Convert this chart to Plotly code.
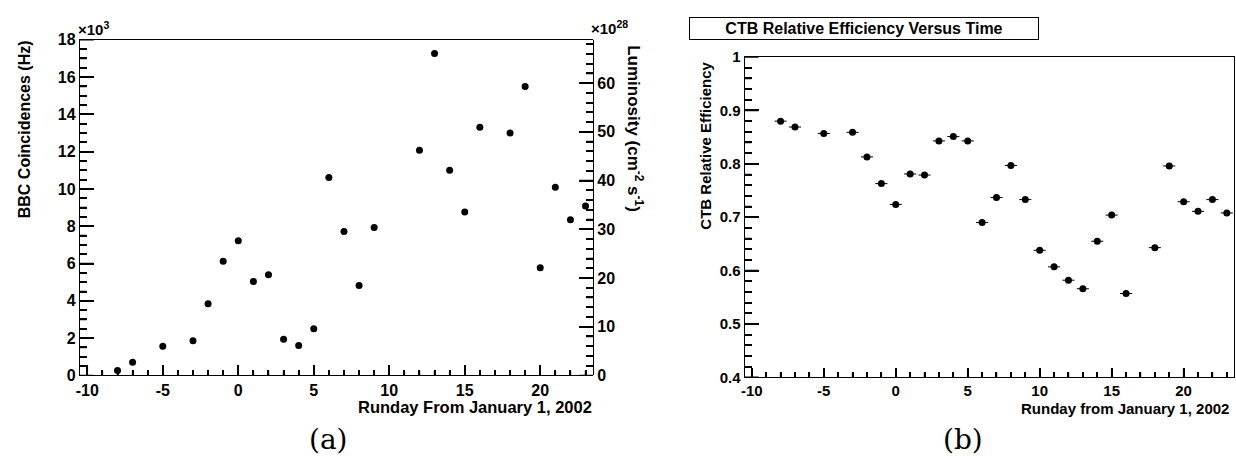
import plotly.graph_objects as go

# ---------------- data ----------------
bbc_days = [-8, -7, -5, -3, -2, -1, 0, 1, 2, 3, 4, 5, 6, 7, 8, 9, 12, 13, 14, 15, 16, 18, 19, 20, 21, 22, 23]
bbc_rate_hz = [260, 710, 1570, 1860, 3850, 6120, 7220, 5040, 5400, 1940, 1600, 2500, 10610, 7720, 4820,
               7940, 12070, 17260, 11000, 8770, 13310, 13000, 15490, 5780, 10090, 8350, 9080]

eff_days = [-8, -7, -5, -3, -2, -1, 0, 1, 2, 3, 4, 5, 6, 7, 8, 9, 10, 11, 12, 13, 14, 15, 16, 18, 19, 20, 21, 22, 23]
ctb_eff = [0.880, 0.869, 0.857, 0.859, 0.813, 0.763, 0.724, 0.781, 0.779, 0.843, 0.851, 0.843, 0.690, 0.737,
           0.797, 0.733, 0.638, 0.607, 0.582, 0.566, 0.655, 0.704, 0.557, 0.643, 0.796, 0.729, 0.711, 0.733, 0.708]
ctb_xerr = [0.42] * len(eff_days)

x_tickvals = [-10, -5, 0, 5, 10, 15, 20]
x_ticktext = ["-10", "-5", "0", "5", "10", "15", "20"]
x_minor = list(range(-10, 24))
bbc_tickvals = [0, 2000, 4000, 6000, 8000, 10000, 12000, 14000, 16000, 18000]
bbc_ticktext = ["0", "2", "4", "6", "8", "10", "12", "14", "16", "18"]
bbc_minor = list(range(0, 18001, 500))
lumi_tickvals = [0, 10, 20, 30, 40, 50, 60]
lumi_ticktext = ["0", "10", "20", "30", "40", "50", "60"]
lumi_minor = list(range(0, 69, 2))
eff_tickvals = [0.4, 0.5, 0.6, 0.7, 0.8, 0.9, 1.0]
eff_ticktext = ["0.4", "0.5", "0.6", "0.7", "0.8", "0.9", "1"]
eff_minor = [i / 100 for i in range(40, 101, 2)]

X_RANGE = [-10.5, 23.5]
BBC_RANGE = [0, 18000]
LUMI_RANGE = [0, 68.9]
EFF_RANGE = [0.4, 1.0]


def bold(lst):
    return ["<b>%s</b>" % t for t in lst]

# ---------------- layout helpers ----------------
W, H = 1236, 471
def px(p):
    return p / W
def py(p):
    return 1 - p / H

FONT = "Liberation Sans, Arial, Helvetica, sans-serif"

# panel geometry (pixels)
A_L, A_R, A_T, A_B = 76, 591, 32, 381
B_L, B_R, B_T, B_B = 743, 1234, 50, 383
A_W, A_H = A_R - A_L, A_B - A_T
B_W, B_H = B_R - B_L, B_B - B_T

fig = go.Figure()


# ---------------- inside tick marks from the tick value lists, in data units ----------------
def is_major(v, majors):
    return any(abs(v - m) < 1e-9 for m in majors)

def x_tick_trace(xa, ya, vals, majors, yrange, plot_h, major_len, minor_len):
    xs, ys = [], []
    per_px = (yrange[1] - yrange[0]) / plot_h
    for v in vals:
        ln = major_len if is_major(v, majors) else minor_len
        xs += [v, v, None]
        ys += [yrange[0], yrange[0] + ln * per_px, None]
    return go.Scatter(x=xs, y=ys, mode="lines", line=dict(color="black", width=1.5),
                      xaxis=xa, yaxis=ya, showlegend=False)

def y_tick_trace(xa, ya, vals, majors, xrange_, plot_w, major_len, minor_len, right=False):
    xs, ys = [], []
    per_px = (xrange_[1] - xrange_[0]) / plot_w
    for v in vals:
        ln = major_len if is_major(v, majors) else minor_len
        if right:
            xs += [xrange_[1] - ln * per_px, xrange_[1], None]
        else:
            xs += [xrange_[0], xrange_[0] + ln * per_px, None]
        ys += [v, v, None]
    return go.Scatter(x=xs, y=ys, mode="lines", line=dict(color="black", width=1.5),
                      xaxis=xa, yaxis=ya, showlegend=False)

# ---------------- data traces ----------------
fig.add_trace(go.Scatter(
    x=bbc_days, y=bbc_rate_hz, mode="markers",
    marker=dict(color="black", size=7),
    xaxis="x", yaxis="y", showlegend=False))
fig.add_trace(go.Scatter(
    x=eff_days, y=ctb_eff, mode="markers",
    marker=dict(color="black", size=7),
    error_x=dict(type="data", array=ctb_xerr, symmetric=True, color="black", thickness=1, width=0),
    xaxis="x2", yaxis="y3", showlegend=False))

fig.add_trace(x_tick_trace("x", "y", x_minor, x_tickvals, BBC_RANGE, A_H, 10, 5))
fig.add_trace(y_tick_trace("x", "y", bbc_minor, bbc_tickvals, X_RANGE, A_W, 14, 7))
fig.add_trace(y_tick_trace("x3", "y2", lumi_minor, lumi_tickvals, X_RANGE, A_W, 14, 7, right=True))
fig.add_trace(x_tick_trace("x2", "y3", x_minor, x_tickvals, EFF_RANGE, B_H, 9, 5))
fig.add_trace(y_tick_trace("x2", "y3", eff_minor, eff_tickvals, X_RANGE, B_W, 14, 7))


def axis(**kw):
    d = dict(showgrid=False, zeroline=False, showline=True, linecolor="black", linewidth=1,
             ticks="inside", tickcolor="black", tickwidth=1.5)
    d.update(kw)
    return d

fig.update_layout(
    width=W, height=H,
    margin=dict(l=0, r=0, t=0, b=0),
    plot_bgcolor="rgba(0,0,0,0)",
    xaxis=axis(domain=[px(A_L), px(A_R)], range=X_RANGE, anchor="y", mirror=True,
               tickmode="array", tickvals=x_tickvals, ticktext=bold(x_ticktext), ticklen=10,
               tickfont=dict(family=FONT, size=16, color="black"),
               minor=dict(dtick=1, tick0=0, ticks="inside", ticklen=5, tickcolor="black", tickwidth=1.5)),
    yaxis=axis(domain=[py(A_B), py(A_T)], range=BBC_RANGE, anchor="x",
               tickmode="array", tickvals=bbc_tickvals, ticktext=bold(bbc_ticktext), ticklen=14,
               tickfont=dict(family=FONT, size=16, color="black"),
               minor=dict(dtick=500, tick0=0, ticks="inside", ticklen=7, tickcolor="black", tickwidth=1.5)),
    xaxis3=dict(domain=[px(A_L), px(A_R)], range=X_RANGE, anchor="y2", visible=False),
    yaxis2=axis(domain=[py(A_B), py(A_T)], range=LUMI_RANGE, anchor="x3", side="right",
                tickmode="array", tickvals=lumi_tickvals, ticktext=bold(lumi_ticktext), ticklen=14,
                tickfont=dict(family=FONT, size=16, color="black"),
                minor=dict(dtick=2, tick0=0, ticks="inside", ticklen=7, tickcolor="black", tickwidth=1.5)),
    xaxis2=axis(domain=[px(B_L), px(B_R)], range=X_RANGE, anchor="y3", mirror=True,
                tickmode="array", tickvals=x_tickvals, ticktext=bold(x_ticktext), ticklen=9,
                tickfont=dict(family=FONT, size=15, color="black"),
                minor=dict(dtick=1, tick0=0, ticks="inside", ticklen=5, tickcolor="black", tickwidth=1.5)),
    yaxis3=axis(domain=[py(B_B), py(B_T)], range=EFF_RANGE, anchor="x2", mirror=True,
                tickmode="array", tickvals=eff_tickvals, ticktext=bold(eff_ticktext), ticklen=14,
                tickfont=dict(family=FONT, size=15, color="black"),
                minor=dict(dtick=0.02, tick0=0.4, ticks="inside", ticklen=7, tickcolor="black", tickwidth=1.5)),
)

# ---------------- texts ----------------
BF = dict(family=FONT, color="black")
ann = []
ann.append(dict(text="<b>BBC Coincidences (Hz)</b>", x=px(20.5), y=py(30), xref="paper", yref="paper",
                textangle=-90, xanchor="center", yanchor="top", showarrow=False, font=dict(BF, size=16)))
ann.append(dict(text="<b>Luminosity (cm<sup>-2</sup> s<sup>-1</sup>)</b>", x=px(633), y=py(36), xref="paper", yref="paper",
                textangle=90, xanchor="center", yanchor="top", showarrow=False, font=dict(BF, size=17)))
ann.append(dict(text="<b>Runday From January 1, 2002</b>", x=px(592), y=py(414), xref="paper", yref="paper",
                xanchor="right", yanchor="middle", showarrow=False, font=dict(BF, size=16.5)))
ann.append(dict(text="<b>×10<sup>3</sup></b>", x=px(72), y=py(32), xref="paper", yref="paper",
                xanchor="left", yanchor="bottom", showarrow=False, font=dict(BF, size=15)))
ann.append(dict(text="<b>×10<sup>28</sup></b>", x=px(587), y=py(31), xref="paper", yref="paper",
                xanchor="left", yanchor="bottom", showarrow=False, font=dict(BF, size=15)))
ann.append(dict(text="<b>CTB Relative Efficiency</b>", x=px(704), y=py(53), xref="paper", yref="paper",
                textangle=-90, xanchor="center", yanchor="top", showarrow=False, font=dict(BF, size=15)))
ann.append(dict(text="<b>Runday from January 1, 2002</b>", x=px(1231), y=py(415), xref="paper", yref="paper",
                xanchor="right", yanchor="middle", showarrow=False, font=dict(BF, size=15)))
# title with its box drawn as the annotation border
ann.append(dict(text="<b>CTB Relative Efficiency Versus Time</b>", x=px(862.7), y=py(20.5), xref="paper", yref="paper",
                xanchor="center", yanchor="middle", showarrow=False, font=dict(BF, size=16),
                width=346, height=19, bordercolor="black", borderwidth=1, borderpad=1))
ann.append(dict(text="(a)", x=px(326), y=py(448), xref="paper", yref="paper",
                xanchor="center", yanchor="middle", showarrow=False,
                font=dict(family="DejaVu Serif, Liberation Serif, serif", size=28, color="black")))
ann.append(dict(text="(b)", x=px(962), y=py(448), xref="paper", yref="paper",
                xanchor="center", yanchor="middle", showarrow=False,
                font=dict(family="DejaVu Serif, Liberation Serif, serif", size=28, color="black")))
fig.update_layout(annotations=ann)

fig.write_html("out.html")
